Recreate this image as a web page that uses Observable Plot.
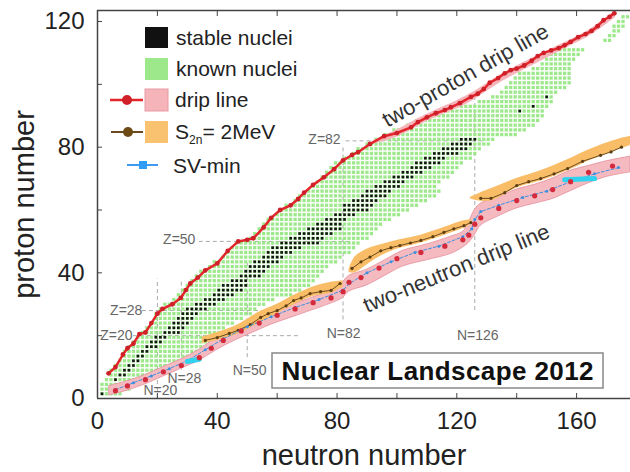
<!DOCTYPE html>
<html><head><meta charset="utf-8">
<script src="https://cdn.jsdelivr.net/npm/d3@7"></script>
<script src="https://cdn.jsdelivr.net/npm/@observablehq/plot@0.6"></script>
<style>
body{margin:0;background:#fff;}
#chart{position:relative;width:630px;height:472px;overflow:hidden;}
svg{font-family:"Liberation Sans",Arial,sans-serif;}
</style>
</head><body><div id="chart"></div>
<script>
// grid step of the drawn nuclide cells
const CELL = 1.5;

// known nuclei: [Z, Nmin, Nmax]
const knownRows = [
 [1.5,1.5,7.5],[3,1.5,10.5],[4.5,1.5,13.5],[6,3,16.5],[7.5,4.5,19.5],[9,4.5,22.5],
 [10.5,6,25.5],[12,7.5,28.5],[13.5,9,33],[15,9,34.5],[16.5,10.5,37.5],[18,12,39],
 [19.5,13.5,40.5],[21,15,40.5],[22.5,16.5,42],[24,18,45],[25.5,19.5,48],[27,19.5,51],
 [28.5,21,52.5],[30,22.5,55.5],[31.5,25.5,58.5],[33,27,64.5],[34.5,28.5,67.5],[36,30,70.5],
 [37.5,31.5,72],[39,33,73.5],[40.5,34.5,75],[42,37.5,76.5],[43.5,39,79.5],[45,42,81],
 [46.5,43.5,84],[48,45,85.5],[49.5,46.5,87],[51,51,90],[52.5,52.5,91.5],[54,54,93],
 [55.5,55.5,94.5],[57,57,97.5],[58.5,60,100.5],[60,61.5,103.5],[61.5,63,106.5],[63,66,109.5],
 [64.5,67.5,112.5],[66,70.5,114],[67.5,72,112.5],[69,73.5,114],[70.5,75,117],[72,76.5,118.5],
 [73.5,78,120],[75,79.5,121.5],[76.5,82.5,124.5],[78,85.5,126],[79.5,87,127.5],[81,90,130.5],
 [82.5,93,132],[84,96,139.5],[85.5,99,142.5],[87,103.5,145.5],[88.5,106.5,147],[90,111,148.5],
 [91.5,115.5,148.5],[93,120,150],[94.5,127.5,151.5],[96,132,152],[97.5,135,153],[99,136.5,156],
 [100.5,138,157.5],[102,139.5,157.5],[103.5,141,157.5],[105,145.5,157.5],[106.5,148.5,157.5],
 [108,150,159],[109.5,151.5,160.5],[111,153,162]
];
const superheavyRows = [
 [114,169.5,171],[115.5,171,172.5],[117,172.5,174],[118.5,172.5,175.5],[120,174,175.5],[121.5,175.5,177]
];
// stable nuclei: [Z, Nmin, Nmax]
const stableRows = [
 [1.5,1.5,1.5],[6,6,6],[7.5,7.5,9],[9,9,10.5],[10.5,10.5,12],[12,12,13.5],[13.5,13.5,15],
 [15,15,16.5],[16.5,16.5,19.5],[18,18,21],[19.5,19.5,22.5],[21,22.5,27],[22.5,24,28.5],
 [24,25.5,30],[25.5,27,31.5],[27,28.5,33],[28.5,30,36],[30,33,39],[31.5,36,42],[33,39,45],
 [34.5,40.5,48],[36,42,49.5],[37.5,45,49.5],[39,48,54],[40.5,49.5,55.5],[42,51,57],
 [43.5,52.5,60],[45,55.5,61.5],[46.5,57,64.5],[48,58.5,67.5],[49.5,61.5,73.5],[51,64.5,75],
 [52.5,67.5,78],[54,70.5,81],[55.5,73.5,81],[57,76.5,82.5],[58.5,79.5,85.5],[60,82.5,90],
 [61.5,82.5,91.5],[63,85.5,93],[64.5,88.5,96],[66,90,97.5],[67.5,93,100.5],[69,96,102],
 [70.5,99,105],[72,102,108],[73.5,105,111],[75,106.5,114],[76.5,109.5,115.5],[78,112.5,120],
 [79.5,115.5,123],[81,118.5,124.5],[82.5,121.5,126],
 [91.5,141,141],[93,145.5,145.5],[96,150,150]
];

// two-proton drip line: [N, Z]
const twoProtonDrip = [
 [3.7,8],[6,10],[8.5,14],[10,16],[12,17.5],[14,20.5],[16,21],[18,24],[20,27],[21.7,28.5],
 [25,30],[27.8,32],[29.5,34.5],[31,36.6],[33.5,38.5],[36,40.8],[40,43],[43.5,47],[47,50],
 [50,50.5],[52,51],[55.5,54.5],[58,57.5],[61,60],[64.5,61.5],[67,63.5],[69,65.5],[72,68],
 [75.6,70.4],[79,73],[82,75.8],[85,77.5],[87,78.4],[91,81],[95.7,83.5],[100,84.5],[104.7,86.3],
 [107,88],[110,89.5],[113,90.8],[116,91.8],[118,92.7],[121,94],[124.7,96],[127,97],[129,98.5],
 [131,100.5],[133.8,102],[136,103.5],[138,104.5],[140,105],[142.5,106],[145,107.5],[147,109],
 [149,110],[151.5,110.8],[154,111.5],[156,112.4],[158,113.5],[160.5,115],[163,116],[165,117],
 [167,118.5],[169,120.4],[171,121.5],[172.6,122.6]
];
// its uncertainty band: [N, Zlow, Zhigh]
const twoProtonBand = [
 [92,80.8,82],[100,83.2,85.5],[110,88.2,90.5],[120,92.2,94.8],[126,95.2,97.8],
 [135,100.8,103.2],[145,105.8,108.2],[155,110.8,112.8],[165,115.8,117.8],[173,121.3,123.5]
];

// two-neutron drip line: [N, Z]
const twoNeutronDrip = [
 [6,2.5],[10,4],[16,6],[22,8.5],[28,10.5],[34,13],[38,16],[42,18.5],[48,21.5],[54,24],
 [60,26.5],[66,28.5],[72,30.5],[78,32],[82,34],[84,37],[88,38.5],[94,41.5],[100,44.5],
 [108,46.5],[116,48.5],[122,50.5],[124,52],[126,55.5],[128,57.5],[134,60.5],[140,63],
 [146,64.5],[152,66.5],[158,69],[164,72],[172,74]
];
const twoNeutronBand = [
 [4,1,4],[10,2.5,5.5],[16,4.5,7.5],[22,7,10],[28,9.5,12.5],[34,12,15.5],[40,15.5,19.5],
 [46,18.5,22.5],[52,21,25],[58,23.5,27.5],[64,25.5,29.5],[70,27.5,31.5],[76,29.5,33.5],
 [80,31,35],[82,32,37],[84,34,39],[90,36,41],[96,39,44],[102,42,47],[110,44,49],
 [118,46,51.5],[122,48,53],[124,49.5,56],[126,52,60],[128,55,62],[134,58,64],[140,60.5,66.5],
 [146,62,68],[152,63.5,70],[158,66,72.5],[164,68.5,74],[170,70.5,75.5],[178,72,77]
];

// SV-min drip line: [N, Z]
const svMin = [
 [6,2.8],[12,5],[18,7.2],[24,9.5],[30,12],[36,15.5],[42,19],[50,22.8],[58,26],[66,29],
 [74,31.5],[82,34.5],[84,36.5],[90,40],[98,43.5],[106,46.5],[114,48.5],[122,51.5],[125,54],
 [126,57],[128,59.5],[134,61.5],[142,64],[150,66],[158,69],[166,71.5],[174,73.5]
];
// SV-min highlighted pieces: [seg, N, Z]
const svMinBars = [[1,30,11.8],[1,34,12.5],[2,156,69.6],[2,166,70]];

// S2n = 2 MeV band: [seg, N, Zlow, Zhigh]
const s2nBand = [
 [1,35,17.5,19.5],[1,40,18.5,21],[1,47,20.5,23.5],[1,54,24,27.5],[1,60,27,30],[1,66,30,33],
 [1,72,32.5,35.5],[1,78,33.5,37],[1,82,35.5,37.5],
 [2,84,40,41],[2,86,40,45],[2,90,42.5,47.5],[2,95,45.5,49],[2,101,47.8,50.5],[2,108,49.5,52],
 [2,116,52,54.5],[2,122,54,56.5],[2,125,55.5,57],
 [3,124.5,63.5,64],[3,128,62.8,65.5],[3,132,63,67],[3,140,67,70],[3,148,69.2,72.5],
 [3,157,72.5,76],[3,165,76,79.5],[3,172,78.5,82],[3,178,80.5,83.5]
];
// S2n = 2 MeV line: [seg, N, Z]
const s2nLine = [
 [1,36,18.5],[1,40,19.4],[1,44,20.7],[1,47,21.7],[1,51,23.5],[1,54.5,25.8],[1,57,27],[1,60,28],
 [1,63,29.5],[1,65.5,31.2],[1,68,32],[1,71,33.4],[1,74.5,34],[1,78,34.4],[1,81,36.6],
 [2,85,41.4],[2,88,43.5],[2,91,45],[2,94.6,47],[2,98,48],[2,101,48.7],[2,104.5,49.5],[2,108,50.3],
 [2,112,51.5],[2,115.7,52.9],[2,119,54],[2,122.4,55],[2,124.7,56],
 [3,128,63.7],[3,131.4,63.7],[3,136,65.5],[3,140,67.8],[3,144,69],[3,148,70],[3,152.5,71.5],
 [3,157,73.2],[3,162,75.5],[3,168,77.4],[3,171.5,78.5],[3,175,80]
];

// magic numbers: lines and labels
const magicZ = [[20,12,68],[28,15,58],[50,34,85],[82,83,130]];      // [Z, Nfrom, Nto]
const magicN = [[20,0,38],[28,9,38],[50,13,43],[82,25,80],[126,28,96]]; // [N, Zfrom, Zto]
const magicZLabels = [["Z=20",11.7,20],["Z=28",15,28],["Z=50",32.7,50.5],["Z=82",81.2,82.5]];
const magicNLabels = [["N=20",21,2.5],["N=28",29,6.4],["N=50",50.8,8.9],["N=82",82.2,20.7],["N=126",127,20]];
const curveLabels = [["two-proton drip line",122.9,102.8,-29.5],["two-neutron drip line",119.9,41.4,-22.4]];

const xTicks = [0,20,40,60,80,100,120,140,160];
const xLabels = [0,40,80,120,160];
const yTicks = [0,20,40,60,80,100,120];
const yLabels = [0,40,80,120];

// ---- build tables ----
function expand(rows){
  const out = [];
  for (const [z,n0,n1] of rows){
    const k0 = Math.round(n0/CELL), k1 = Math.round(n1/CELL);
    for (let k=k0;k<=k1;k++) out.push({n:k*CELL, z});
  }
  return out;
}
const knownCells = expand(knownRows).concat(expand(superheavyRows));
const stableCells = expand(stableRows);
const obj2 = a => a.map(([n,z]) => ({n,z}));
const tpd = obj2(twoProtonDrip);
const tpb = twoProtonBand.map(([n,lo,hi])=>({n,lo,hi}));
const tnd = obj2(twoNeutronDrip);
const tnb = twoNeutronBand.map(([n,lo,hi])=>({n,lo,hi}));
const svm = obj2(svMin);
const svb = svMinBars.map(([s,n,z])=>({s,n,z}));
const s2b = s2nBand.map(([s,n,lo,hi])=>({s,n,lo,hi}));
const s2l = s2nLine.map(([s,n,z])=>({s,n,z}));
const mz = magicZ.map(([z,n1,n2])=>({z,n1,n2}));
const mn = magicN.map(([n,z1,z2])=>({n,z1,z2}));

const axisCol = "#444";
const chart = Plot.plot({
  width: 630, height: 472,
  marginLeft: 97, marginRight: 0, marginTop: 10, marginBottom: 74,
  style: {fontFamily: '"Liberation Sans", Arial, sans-serif', background: "white"},
  x: {domain: [0, 178]},
  y: {domain: [0, 123.5]},
  marks: [
    Plot.ruleY(mz, {y: "z", x1: "n1", x2: "n2", stroke: "#aaa", strokeDasharray: "4,3", strokeWidth: 1}),
    Plot.ruleX(mn, {x: "n", y1: "z1", y2: "z2", stroke: "#aaa", strokeDasharray: "4,3", strokeWidth: 1}),
    Plot.dot(knownCells, {x: "n", y: "z", symbol: "square", r: 1.85, fill: "#9ce88a"}),
    Plot.dot(stableCells, {x: "n", y: "z", symbol: "square", r: 1.5, fill: "#151515"}),
    // two-proton drip
    Plot.areaY(tpb, {x: "n", y1: "lo", y2: "hi", fill: "#f4b4ba", curve: "catmull-rom"}),
    Plot.line(tpd, {x: "n", y: "z", stroke: "#e3262b", strokeWidth: 2.5}),
    Plot.dot(tpd, {x: "n", y: "z", r: 2.4, fill: "#cf1f28"}),
    // two-neutron drip
    Plot.areaY(tnb, {x: "n", y1: "lo", y2: "hi", fill: "#f4bac0", stroke: "#e58f9c", strokeWidth: 0.8, curve: "catmull-rom"}),
    Plot.areaY(s2b, {x: "n", y1: "lo", y2: "hi", z: "s", fill: "#f9bd68", curve: "catmull-rom"}),
    Plot.line(s2l, {x: "n", y: "z", z: "s", stroke: "#6a4a1c", strokeWidth: 1}),
    Plot.dot(s2l, {x: "n", y: "z", r: 1.6, fill: "#5a3d12"}),
    Plot.line(svm, {x: "n", y: "z", stroke: "#3d8fe0", strokeWidth: 1, strokeDasharray: "3,2"}),
    Plot.dot(svm, {x: "n", y: "z", r: 1.5, fill: "#3d8fe0"}),
    Plot.line(svb, {x: "n", y: "z", z: "s", stroke: "#2fd3f0", strokeWidth: 5}),
    Plot.dot(tnd, {x: "n", y: "z", r: 2.6, fill: "#d42a3c"}),
    // labels
    Plot.text(magicZLabels, {x: d=>d[1], y: d=>d[2], text: d=>d[0], textAnchor: "end", fontSize: 14, fill: "#666"}),
    Plot.text(magicNLabels, {x: d=>d[1], y: d=>d[2], text: d=>d[0], fontSize: 14, fill: "#666"}),
    Plot.text(curveLabels.slice(0,1), {x: d=>d[1], y: d=>d[2], text: d=>d[0], rotate: -29.5, fontSize: 22, fill: "#333"}),
    Plot.text(curveLabels.slice(1), {x: d=>d[1], y: d=>d[2], text: d=>d[0], rotate: -22.4, fontSize: 22, fill: "#333"}),
    // frame
    Plot.ruleX([0], {stroke: axisCol, strokeWidth: 1.5}),
    Plot.ruleY([0, 123.5], {stroke: axisCol, strokeWidth: 1.5}),
    // axes
    Plot.axisX({anchor: "bottom", ticks: xTicks, tickSize: -5, tickFormat: () => "", label: null, stroke: axisCol}),
    Plot.axisX({anchor: "top", ticks: xTicks, tickSize: -5, tickFormat: () => "", label: null, stroke: axisCol}),
    Plot.axisY({anchor: "left", ticks: yTicks, tickSize: -5, tickFormat: () => "", label: null, stroke: axisCol}),
    Plot.axisX({anchor: "bottom", ticks: xLabels, tickSize: 0, tickPadding: 13, fontSize: 24, fill: "#222", label: null}),
    Plot.axisY({anchor: "left", ticks: yLabels, tickSize: 0, tickPadding: 13, fontSize: 24, fill: "#222", label: null}),
    Plot.axisX({anchor: "bottom", ticks: [], label: "neutron number", labelArrow: "none", labelAnchor: "center", labelOffset: 66, fontSize: 29, fill: "#222"}),
    Plot.axisY({anchor: "left", ticks: [], label: "proton number", labelArrow: "none", labelAnchor: "center", labelOffset: 84, fontSize: 29, fill: "#222"})
  ]
});
document.getElementById("chart").appendChild(chart);

// ---- legend and title box (annotation overlay) ----
const svg = d3.select(chart);
const lg = svg.append("g").attr("font-family", '"Liberation Sans", Arial, sans-serif').attr("font-size", 21).attr("fill", "#222").attr("text-anchor", "start");
lg.append("rect").attr("x",145).attr("y",27).attr("width",23).attr("height",21).attr("fill","#111");
lg.append("rect").attr("x",145).attr("y",58).attr("width",23).attr("height",22).attr("fill","#9ce88a");
lg.append("line").attr("x1",110).attr("x2",143).attr("y1",100).attr("y2",100).attr("stroke","#e3262b").attr("stroke-width",2.5);
lg.append("circle").attr("cx",127).attr("cy",100).attr("r",5).attr("fill","#cf1f28");
lg.append("rect").attr("x",145).attr("y",89).attr("width",23).attr("height",22).attr("fill","#f4b4ba").attr("stroke","#e99aa5");
lg.append("line").attr("x1",111).attr("x2",143).attr("y1",132).attr("y2",132).attr("stroke","#6a4a1c").attr("stroke-width",2);
lg.append("circle").attr("cx",128).attr("cy",132).attr("r",5).attr("fill","#6e4a14");
lg.append("rect").attr("x",145).attr("y",121).attr("width",23).attr("height",22).attr("fill","#f9c270");
lg.append("line").attr("x1",127).attr("x2",158).attr("y1",165).attr("y2",165).attr("stroke","#3d9af0").attr("stroke-width",2);
lg.append("rect").attr("x",139).attr("y",161).attr("width",8).attr("height",8).attr("fill","#2f9df4");
lg.append("text").attr("x",176).attr("y",45).text("stable nuclei");
lg.append("text").attr("x",176).attr("y",76).text("known nuclei");
lg.append("text").attr("x",175).attr("y",107).text("drip line");
const s2 = lg.append("text").attr("x",175).attr("y",139);
s2.append("tspan").text("S");
s2.append("tspan").attr("font-size",12).attr("dy",5).text("2n");
s2.append("tspan").attr("dy",-5).text("= 2MeV");
lg.append("text").attr("x",173).attr("y",173).text("SV-min");

const tb = svg.append("g");
tb.append("rect").attr("x",272).attr("y",353).attr("width",331).attr("height",35).attr("fill","white").attr("stroke","#888").attr("stroke-width",1.5);
tb.append("text").attr("x",437.5).attr("y",380).attr("text-anchor","middle")
  .attr("font-family",'"Liberation Sans", Arial, sans-serif').attr("font-weight","bold").attr("font-size",26)
  .attr("textLength",312).attr("fill","#111").text("Nuclear Landscape 2012");
</script>
</body></html>
